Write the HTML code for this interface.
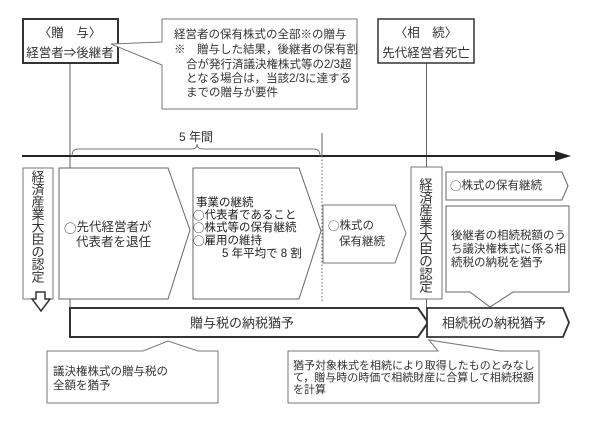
<!DOCTYPE html>
<html><head><meta charset="utf-8"><style>
html,body{margin:0;padding:0;background:#fff;}
svg{display:block;}
text{font-family:"Liberation Sans","Noto Sans CJK JP",sans-serif;fill:#333;dominant-baseline:central;}
.c{font-family:"Noto Sans CJK JP",sans-serif;}
</style></head><body>
<svg width="600" height="423" viewBox="0 0 600 423" xmlns="http://www.w3.org/2000/svg">
<rect width="600" height="423" fill="#fff"/>
<!-- connector lines -->
<line x1="70" y1="63" x2="70" y2="308" stroke="#666" stroke-width="1"/>
<line x1="426.5" y1="63" x2="426.5" y2="308" stroke="#666" stroke-width="1"/>
<!-- timeline -->
<line x1="22" y1="156" x2="560" y2="156" stroke="#222" stroke-width="2"/>
<polygon points="571,156 555,151 555,161" fill="#222"/>
<!-- brace -->
<path d="M72,156 Q72,149 78,149 L191,149 Q197,149 197,144 Q197,149 203,149 L314,149 Q320,149 320,156" fill="none" stroke="#777" stroke-width="1"/>
<text x="196" y="137" font-size="12" text-anchor="middle">5 年間</text>
<!-- dotted line -->
<line x1="322" y1="133" x2="322" y2="156" stroke="#666" stroke-width="1"/>
<line x1="322" y1="156" x2="322" y2="303" stroke="#666" stroke-width="1" stroke-dasharray="1.5,2"/>

<!-- top-left box -->
<rect x="23" y="19" width="95" height="44" fill="#fff" stroke="#333" stroke-width="2"/>
<text x="70" y="33" font-size="12.5" text-anchor="middle">〈贈　与〉</text>
<text x="70" y="53" font-size="12.5" text-anchor="middle">経営者⇒後継者</text>

<!-- top callout -->
<path d="M162,19 L357,19 L357,109 L162,109 L162,65 L111,44 L162,42 Z" fill="#fff" stroke="#777" stroke-width="1"/>
<text x="174" y="35" font-size="11.5">経営者の保有株式の全部※の贈与</text>
<text x="174" y="50" font-size="11.5">※　贈与した結果，後継者の保有割</text>
<text x="186" y="65" font-size="11.5">合が発行済議決権株式等の2/3超</text>
<text x="186" y="79" font-size="11.5">となる場合は，当該2/3に達する</text>
<text x="186" y="93" font-size="11.5">までの贈与が要件</text>

<!-- top-right box -->
<rect x="378" y="19" width="96" height="44" fill="#fff" stroke="#333" stroke-width="1.5"/>
<text x="426" y="33" font-size="12.5" text-anchor="middle">〈相　続〉</text>
<text x="426" y="53" font-size="12.5" text-anchor="middle">先代経営者死亡</text>

<!-- left vertical box -->
<rect x="23" y="168" width="30" height="131" fill="#fff" stroke="#777" stroke-width="1"/>
<g font-size="13">
<text x="38" y="177" text-anchor="middle">経</text>
<text x="38" y="189.5" text-anchor="middle">済</text>
<text x="38" y="202" text-anchor="middle">産</text>
<text x="38" y="214.5" text-anchor="middle">業</text>
<text x="38" y="227" text-anchor="middle">大</text>
<text x="38" y="239.5" text-anchor="middle">臣</text>
<text x="38" y="252" text-anchor="middle">の</text>
<text x="38" y="264.5" text-anchor="middle">認</text>
<text x="38" y="277" text-anchor="middle">定</text>
</g>
<polygon points="36,292 45,292 45,299 50,299 41,311 32,299 36,299" fill="#fff" stroke="#333" stroke-width="1.5"/>

<!-- box 1 -->
<path d="M59,168 L168,168 L190,230 L168,299 L59,299 Z" fill="#fff" stroke="#666" stroke-width="1"/>
<text x="64" y="227" font-size="12.5"><tspan class="c">○</tspan>先代経営者が</text>
<text x="76" y="242" font-size="12.5">代表者を退任</text>

<!-- box 2 -->
<path d="M193,168 L299,168 L321,231 L299,299 L193,299 Z" fill="#fff" stroke="#666" stroke-width="1"/>
<g font-size="11.5">
<text x="196" y="203" style="fill:#222">事業の継続</text>
<text x="193" y="215.5" style="fill:#222"><tspan class="c">○</tspan>代表者であること</text>
<text x="193" y="228" style="fill:#222"><tspan class="c">○</tspan>株式等の保有継続</text>
<text x="193" y="241" style="fill:#222"><tspan class="c">○</tspan>雇用の維持</text>
<text x="222" y="254" style="fill:#222">5 年平均で 8 割</text>
</g>

<!-- box 3 -->
<path d="M323,205 L395,205 L406,233 L395,263 L323,263 Z" fill="#fff" stroke="#777" stroke-width="1"/>
<text x="328" y="226" font-size="11.5"><tspan class="c">○</tspan>株式の</text>
<text x="339" y="242" font-size="11.5">保有継続</text>

<!-- right vertical box -->
<rect x="411" y="167" width="31" height="132" fill="#fff" stroke="#777" stroke-width="1"/>
<g font-size="13.5">
<text x="426" y="185" text-anchor="middle">経</text>
<text x="426" y="197.75" text-anchor="middle">済</text>
<text x="426" y="210.5" text-anchor="middle">産</text>
<text x="426" y="223.25" text-anchor="middle">業</text>
<text x="426" y="236" text-anchor="middle">大</text>
<text x="426" y="248.75" text-anchor="middle">臣</text>
<text x="426" y="261.5" text-anchor="middle">の</text>
<text x="426" y="274.25" text-anchor="middle">認</text>
<text x="426" y="287" text-anchor="middle">定</text>
</g>

<!-- stock continuation arrow -->
<path d="M446,172 L562,172 L568,186 L562,200 L446,200 Z" fill="#fff" stroke="#666" stroke-width="1"/>
<text x="450" y="186" font-size="11.5"><tspan class="c">○</tspan>株式の保有継続</text>

<!-- right callout -->
<path d="M446,206 L569,206 L569,292 L513,292 L490,307 L470,292 L446,292 Z" fill="#fff" stroke="#666" stroke-width="1"/>
<text x="451" y="236" font-size="11.5">後継者の相続税額のう</text>
<text x="451" y="249.5" font-size="11.5">ち議決権株式に係る相</text>
<text x="451" y="263" font-size="11.5">続税の納税を猶予</text>

<!-- gift tax arrow -->
<path d="M70,308 L418,308 L428,322.5 L418,337 L70,337 Z" fill="#fff" stroke="#333" stroke-width="2"/>
<text x="242" y="323" font-size="13" text-anchor="middle">贈与税の納税猶予</text>

<!-- inheritance tax arrow -->
<path d="M427,308 L563,308 L569,322.5 L563,337 L427,337 Z" fill="#fff" stroke="#333" stroke-width="1.8"/>
<text x="494" y="323" font-size="13" text-anchor="middle">相続税の納税猶予</text>

<!-- bottom-left callout -->
<path d="M47,351 L143,351 L168,341 L198,351 L218,351 L218,403 L47,403 Z" fill="#fff" stroke="#777" stroke-width="1"/>
<text x="53" y="372" font-size="11.5">議決権株式の贈与税の</text>
<text x="53" y="386" font-size="11.5">全額を猶予</text>

<!-- bottom-right callout -->
<path d="M288,351 L438,351 L429,340 L500,351 L539,351 L539,403 L288,403 Z" fill="#fff" stroke="#777" stroke-width="1"/>
<text x="293" y="366" font-size="11">猶予対象株式を相続により取得したものとみなし</text>
<text x="293" y="378" font-size="11">て，贈与時の時価で相続財産に合算して相続税額</text>
<text x="293" y="390" font-size="11">を計算</text>
</svg>
</body></html>
